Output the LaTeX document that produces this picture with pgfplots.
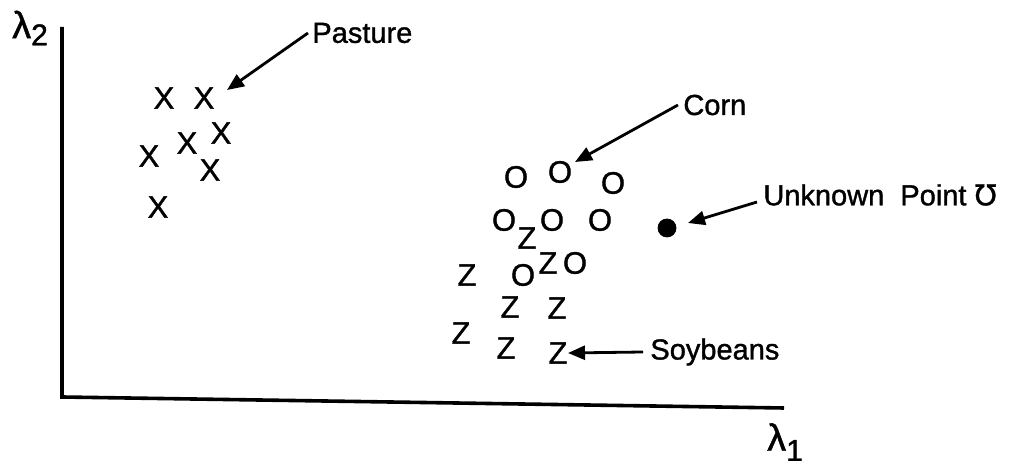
\documentclass[border=0pt]{standalone}
\usepackage{fontspec}
\setmainfont{Liberation Sans}
\newfontfamily\mk{Liberation Sans}[FakeBold=1.2]
\newfontfamily\dv{DejaVu Sans}[FakeBold=1.2]
\usepackage{pgfplots}
\pgfplotsset{compat=1.18}
\usetikzlibrary{arrows.meta}

\pgfplotstableread{
x y
164 368
204 368
221 333
187 323
149 310
210 296
158 259
}\pasture
\pgfplotstableread{
x y
516 289
560 294
613 283
504 246
552 246
600 246
523 191
575 203
}\corn
\pgfplotstableread{
x y
527 228
548 203
467 191
510 159
557 158
461 133
506 118
558 113
}\soy

\tikzset{
  lbl/.style={anchor=west, font=\mk\fontsize{14.5}{15}\selectfont, inner sep=0pt},
  arr/.style={line width=1.4pt, -{Triangle[length=8.5pt,width=7pt]}},
}
\pgfplotsset{
  letter/.style={only marks, mark=none, nodes near coords={#1},
    every node near coord/.style={anchor=center, inner sep=0pt,
      font=\mk\fontsize{15.5}{15.5}\selectfont}},
}

\begin{document}
\begin{tikzpicture}
\begin{axis}[
  scale only axis, width=510.5pt, height=233pt,
  xmin=0, xmax=1021, ymin=0, ymax=466,
  hide axis, clip=false,
]
  \path (axis cs:0,0) rectangle (axis cs:1021,466);
  % axes
  \draw[line width=1.8pt] (axis cs:62,439) -- (axis cs:62,69) -- (axis cs:784,58);
  \node[font=\mk\fontsize{19}{20}\selectfont] at (axis cs:30,438) {λ\raisebox{-0.35ex}{\fontsize{15}{15}\selectfont 2}};
  \node[font=\mk\fontsize{19}{20}\selectfont] at (axis cs:785,24) {λ\raisebox{-0.5ex}{\fontsize{15}{15}\selectfont 1}};

  \addplot[letter=X] table {\pasture};
  \addplot[letter=O] table {\corn};
  \addplot[letter=Z] table {\soy};
  \addplot[only marks, mark=*, mark size=4.5pt, black] coordinates {(667,238)};

  % labels
  \draw[arr] (axis cs:308,433) -- (axis cs:227,376);
  \node[lbl] at (axis cs:312,433) {Pasture};
  \draw[arr] (axis cs:678,361) -- (axis cs:575,304);
  \node[lbl] at (axis cs:683,361) {Corn};
  \draw[arr] (axis cs:757,264) -- (axis cs:688,243);
  \node[lbl] at (axis cs:763,271) {Unknown\ \ Point {\dv Ʊ}};
  \draw[arr] (axis cs:643,114) -- (axis cs:568,113);
  \node[lbl] at (axis cs:650,114) {Soybeans};
\end{axis}
\end{tikzpicture}
\end{document}
